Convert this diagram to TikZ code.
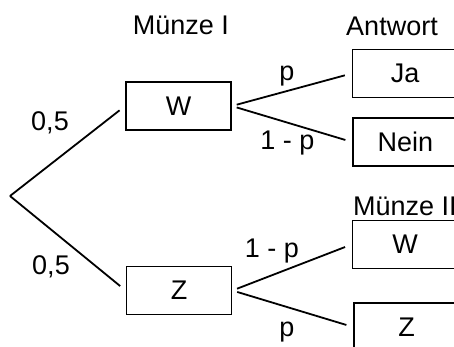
\documentclass[tikz,border=0pt]{standalone}
\usepackage{fontspec}
\setmainfont{Liberation Sans}

\definecolor{inkcol}{RGB}{0, 0, 0}

\tikzset{
  box/.style={draw=inkcol, line width=1.8pt, minimum width=105pt, minimum height=48pt, inner sep=0pt},
  branch/.style={draw=inkcol, line width=1.8pt, shorten <=5pt, shorten >=7pt},
  lbl/.style={anchor=base, inner sep=0pt}
}

\begin{document}
\begin{tikzpicture}[x=1pt, y=-1pt, font=\fontsize{27}{32}\selectfont]
    \useasboundingbox (0,0) rectangle (454,347);

    % Root of the tree
    \coordinate (root) at (10,196);

    % First coin
    \node[box] (w1) at (178.5,106) {W};
    \node[box] (z1) at (179,290.5) {Z};
    \node[lbl] (head1) at (181,35) {Münze I};

    % Answer and second coin
    \node[box] (ja) at (405,73.5) {Ja};
    \node[box] (nein) at (405.5,142) {Nein};
    \node[box] (w2) at (405,244.5) {W};
    \node[box] (z2) at (406.5,327) {Z};
    \node[lbl] (head2) at (392,36) {Antwort};
    \node[lbl, anchor=base west] (head3) at (353,215) {Münze II};

    % Branches
    \draw[branch, shorten <=0pt] (root) -- (w1.west);
    \draw[branch, shorten <=0pt] (root) -- (z1.west);
    \draw[branch] (w1.east) -- (ja.west);
    \draw[branch] (w1.east) -- (nein.west);
    \draw[branch] (z1.east) -- (w2.west);
    \draw[branch] (z1.east) -- (z2.west);

    % Probabilities
    \node[lbl] (p1) at (50,131) {0,5};
    \node[lbl] (p2) at (51,274) {0,5};
    \node[lbl] (p3) at (287,81) {p};
    \node[lbl] (p4) at (287.5,150) {1 - p};
    \node[lbl] (p5) at (272,257) {1 - p};
    \node[lbl] (p6) at (287,336) {p};
\end{tikzpicture}
\end{document}
